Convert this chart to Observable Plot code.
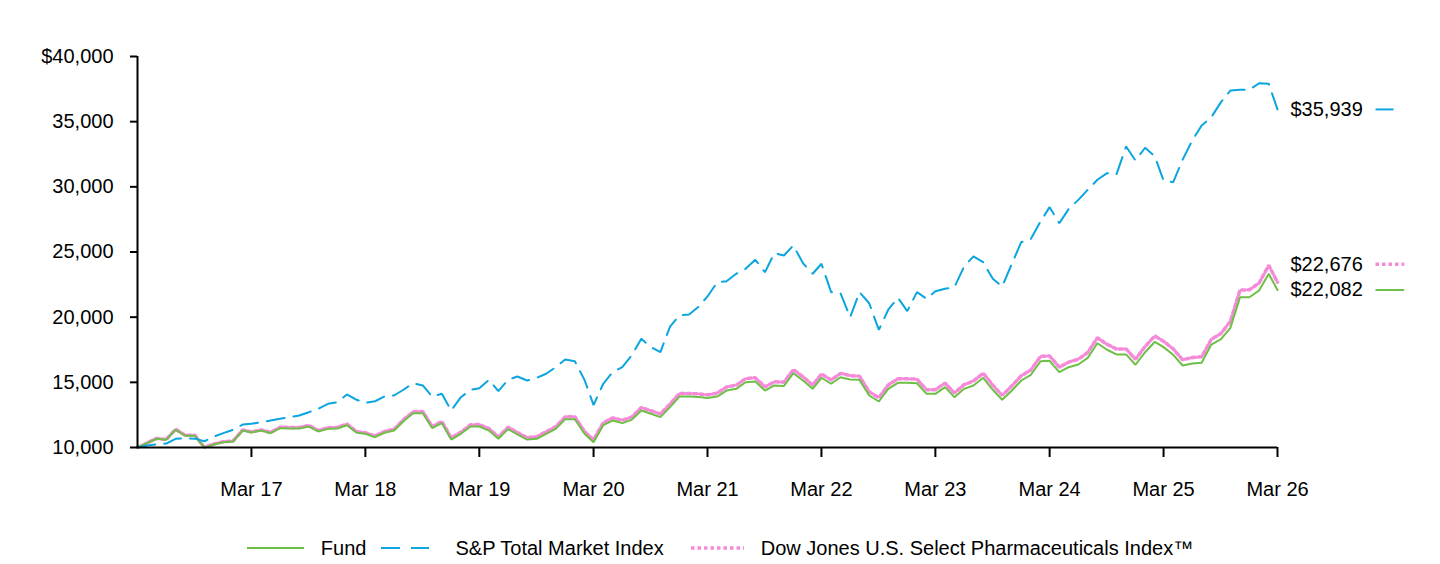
<!DOCTYPE html>
<html><head><meta charset="utf-8">
<script src="https://cdn.jsdelivr.net/npm/d3@7"></script>
<script src="https://cdn.jsdelivr.net/npm/@observablehq/plot@0.6"></script>
<style>
body{margin:0;background:#fff;font-family:"Liberation Sans",Arial,sans-serif;}
#chart{height:510px;}
#legend{display:flex;justify-content:center;align-items:center;height:24px;margin-top:26px;font-size:20px;color:#000;white-space:nowrap;}
#legend .item{display:flex;align-items:center;}
#legend svg{display:block;}
</style></head><body><div id="chart"></div><div id="legend"></div>
<script>
// Month-end dates, Mar 2016 .. Mar 2026
const months = d3.utcMonth.range(new Date(Date.UTC(2016,2,1)), new Date(Date.UTC(2026,3,1)));

const fund = [10000,10330,10670,10590,11360,10900,10900,9990,10230,10410,10460,11300,11150,11300,11100,11480,
11460,11460,11610,11230,11430,11460,11710,11130,11050,10790,11130,11300,12020,12630,12630,11490,
11870,10610,11050,11610,11610,11300,10670,11410,11000,10610,10670,11050,11430,12170,12170,11050,
10410,11710,12070,11870,12120,12840,12590,12330,13100,13910,13910,13870,13790,13910,14370,14500,
15010,15070,14370,14760,14720,15700,15140,14500,15350,14890,15390,15220,15190,13990,13530,14500,
14960,14960,14930,14120,14120,14630,13860,14500,14760,15350,14430,13660,14370,15140,15580,16620,
16650,15780,16160,16370,16880,18000,17500,17140,17140,16350,17310,18110,17700,17110,16290,16450,
16500,17900,18310,19180,21530,21530,22050,23330,22082];

const spTotal = [10000,10150,10250,10300,10670,10700,10680,10480,10840,11100,11360,11760,11820,11940,12070,12200,
12330,12460,12710,12970,13350,13480,14070,13660,13430,13550,13910,13990,14430,14930,14760,13900,
14120,12840,13860,14430,14550,15190,14320,15190,15450,15140,15350,15660,16160,16750,16620,15190,
13250,14890,15780,16160,17060,18340,17700,17310,19280,20130,20210,20820,21590,22680,22760,23330,
23710,24400,23450,24910,24730,25500,24140,23330,24100,21920,21840,20000,21920,21070,19030,20570,
21490,20460,21920,21410,21990,22180,22300,23890,24660,24220,22940,22350,24100,25750,26010,27360,
28440,27210,28300,29000,29770,30540,31050,30950,33100,32020,33000,32330,30490,30360,32080,33560,
34710,35340,36500,37390,37450,37450,37950,37900,35939];

const dowJones = [10000,10350,10700,10620,11400,10940,10940,10020,10270,10450,10500,11350,11200,11350,11160,11550,
11540,11540,11690,11310,11520,11550,11800,11220,11140,10880,11230,11400,12130,12750,12760,11610,
12000,10740,11180,11750,11760,11450,10810,11560,11150,10760,10830,11210,11600,12350,12360,11230,
10590,11900,12270,12080,12330,13060,12820,12570,13340,14140,14150,14110,14040,14170,14640,14780,
15290,15350,14650,15040,15010,15980,15420,14790,15640,15180,15690,15520,15470,14280,13820,14800,
15270,15270,15240,14430,14430,14940,14180,14820,15100,15700,14780,14000,14730,15500,15950,17000,
17020,16160,16550,16770,17290,18420,17920,17560,17560,16770,17750,18560,18150,17560,16730,16900,
16960,18300,18750,19680,22080,22100,22620,23980,22676];

const seriesNames = ["Fund","S&P Total Market Index","Dow Jones U.S. Select Pharmaceuticals Index\u2122"];
const endLabels = ["$22,082","$35,939","$22,676"];
const yTicks = [10000,15000,20000,25000,30000,35000,40000];
const xTickYears = [2017,2018,2019,2020,2021,2022,2023,2024,2025,2026];

const colors = {"Fund":"#6dbf45","S&P Total Market Index":"#0ba5df","Dow Jones U.S. Select Pharmaceuticals Index\u2122":"#f58ad9"};
const dashes = {"Fund":null,"S&P Total Market Index":"18,9","Dow Jones U.S. Select Pharmaceuticals Index\u2122":"3.5,3"};
const widths = {"Fund":2,"S&P Total Market Index":2,"Dow Jones U.S. Select Pharmaceuticals Index\u2122":3.5};
const labelDy = {"Fund":0,"S&P Total Market Index":0,"Dow Jones U.S. Select Pharmaceuticals Index\u2122":-18};
const sampleMonths = {"Fund":3,"S&P Total Market Index":2,"Dow Jones U.S. Select Pharmaceuticals Index\u2122":3};

const valuesBy = {[seriesNames[0]]:fund,[seriesNames[1]]:spTotal,[seriesNames[2]]:dowJones};
const rows = s => months.map((d,i)=>({date:d, value:valuesBy[s][i]}));
const last = months[months.length-1];
const xTicks = xTickYears.map(y=>new Date(Date.UTC(y,2,1)));
const ends = seriesNames.map((s,i)=>({name:s, date:last, date2:d3.utcMonth.offset(last,sampleMonths[s]), value:valuesBy[s][months.length-1], label:endLabels[i]}));

const lineMark = s => Plot.line(rows(s), {x:"date", y:"value", stroke:colors[s], strokeWidth:widths[s], strokeDasharray:dashes[s], strokeLinejoin:"miter"});

const chart = Plot.plot({
  width:1440, height:510,
  marginTop:56, marginBottom:63, marginLeft:137, marginRight:163,
  style:{fontFamily:"'Liberation Sans', Arial, sans-serif", fontSize:"20px", color:"#000", background:"#fff"},
  x:{type:"utc", domain:[months[0], last]},
  y:{domain:[10000,40000]},
  marks:[
    lineMark(seriesNames[2]),
    lineMark(seriesNames[0]),
    lineMark(seriesNames[1]),
    Plot.ruleX([months[0]], {y1:10000, y2:40000, stroke:"#000", strokeWidth:2}),
    Plot.ruleY([10000], {x1:months[0], x2:last, stroke:"#000", strokeWidth:2}),
    Plot.axisY({ticks:yTicks, tickSize:7, tickPadding:17, strokeWidth:2, fontSize:20,
      tickFormat:d=>(d===40000?"$":"")+d3.format(",")(d), label:null}),
    Plot.axisX({ticks:xTicks, tickSize:10, tickPadding:24, strokeWidth:2, fontSize:20,
      tickFormat:d3.utcFormat("%b %y"), label:null}),
    Plot.text(ends, {x:"date", y:"value", text:"label", textAnchor:"start", fontSize:20, fill:"#000",
      render:(index, scales, values, dims, ctx, next)=>{const g=next(index, scales, values, dims, ctx); d3.select(g).selectAll("text").attr("transform", (_, j)=>`translate(${values.x[index[j]]+13},${values.y[index[j]]+labelDy[ends[index[j]].name]})`); return g;}}),
    ...seriesNames.map(s=>Plot.link(ends.filter(e=>e.name===s), {x1:"date", x2:"date2", y1:"value", y2:"value", dx:98, dy:labelDy[s],
      stroke:colors[s], strokeWidth:widths[s], strokeDasharray:dashes[s]}))
  ]
});
document.getElementById("chart").appendChild(chart);

// Legend
const legend = d3.select("#legend");
const legendSpec = [
  {name:seriesNames[0], w:57, gapBefore:0, gapAfter:17},
  {name:seriesNames[1], w:48, gapBefore:15, gapAfter:26},
  {name:seriesNames[2], w:53, gapBefore:27, gapAfter:17}
];
legendSpec.forEach(it=>{
  const item = legend.append("div").attr("class","item").style("margin-left", it.gapBefore+"px");
  const svg = item.append("svg").attr("width", it.w).attr("height", 12);
  svg.append("line").attr("x1",0).attr("x2",it.w).attr("y1",6).attr("y2",6)
    .attr("stroke", colors[it.name]).attr("stroke-width", widths[it.name])
    .attr("stroke-dasharray", it.name===seriesNames[1] ? "19,11" : dashes[it.name]);
  item.append("span").style("margin-left", it.gapAfter+"px").text(it.name);
});
</script>
</body></html>
